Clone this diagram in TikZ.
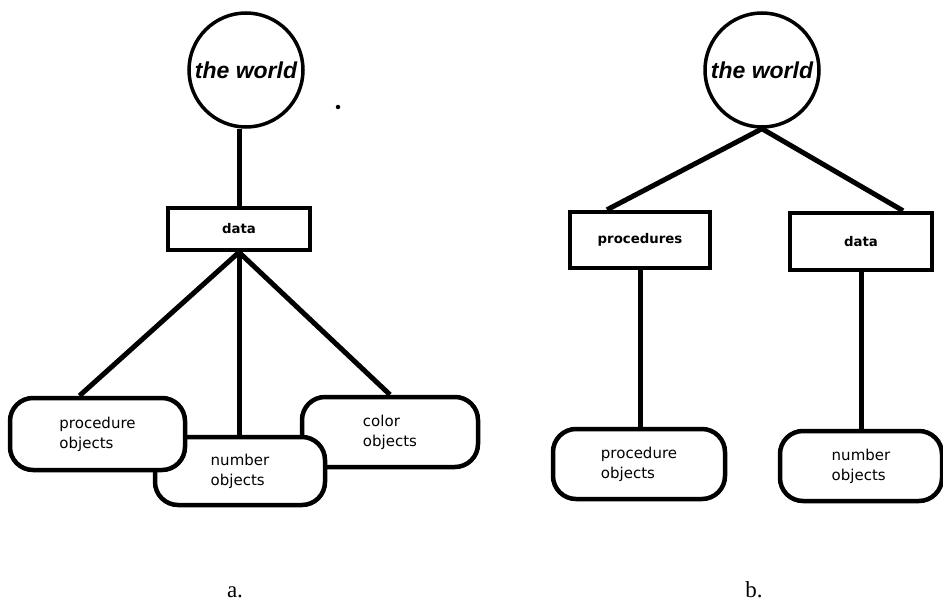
\documentclass[tikz,border=0pt]{standalone}
\usepackage{fontspec}
\setmainfont{Liberation Serif}
\newfontfamily\worldfont{Liberation Sans}
\newfontfamily\boxfont{DejaVu Sans}
\usepackage{tikz}
\tikzset{world/.style = {draw, circle, line width = 3.5, fill = white, inner sep = 0, minimum size = 114,
                         font = \worldfont\fontsize{23}{26}\selectfont\bfseries\itshape},
         databox/.style = {draw, rectangle, line width = 4.5, fill = white, inner sep = 0,
                           font = \boxfont\fontsize{13.3}{16}\selectfont\bfseries},
         objbox/.style = {draw, rectangle, rounded corners = 23, line width = 4.5, fill = white,
                          inner sep = 0, minimum width = 172, minimum height = 70, align = left,
                          font = \boxfont\fontsize{15}{20}\selectfont},
         link/.style = {line width = 5},
         caption/.style = {anchor = base, inner sep = 0, font = \fontsize{23}{26}\selectfont}}

\begin{document}
\begin{tikzpicture}[x = 1pt, y = -1pt]
    \useasboundingbox (0, 0) rectangle (943, 602);

    \node [world] (world-a) at (246, 70) {the world};
    \node [fill, circle, inner sep = 0, minimum size = 4.5] (dot-a) at (338, 107) {};
    \node [databox, minimum width = 142, minimum height = 42] (data-a) at (239, 229) {data};
    \node [objbox, minimum width = 176] (color-a) at (390, 432) {color\\objects};
    \node [objbox, minimum width = 170, minimum height = 68] (num-a) at (240, 471) {number\\objects};
    \node [objbox, minimum width = 175, minimum height = 72] (proc-a) at (97.5, 434) {procedure\\objects};

    \draw [link] (data-a.north) -- (data-a.north |- world-a.south);
    \draw [link] (data-a.south) -- ([xshift = -18]proc-a.north);
    \draw [link] (data-a.south) -- (data-a.south |- num-a.north);
    \draw [link] (data-a.south) -- (color-a.north);

    \node [world] (world-b) at (762, 70) {the world};
    \node [databox, minimum width = 140, minimum height = 56] (procs-b) at (640, 240) {procedures};
    \node [databox, minimum width = 142, minimum height = 57] (data-b) at (861, 241.5) {data};
    \node [objbox] (proc-b) at (639, 464) {procedure\\objects};
    \node [objbox, minimum width = 162] (num-b) at (861, 466) {number\\objects};

    \draw [link] (world-b.south) -- ([xshift = -33]procs-b.north);
    \draw [link] (world-b.south) -- ([xshift = 42]data-b.north);
    \draw [link] (procs-b.south) -- (procs-b.south |- proc-b.north);
    \draw [link] (data-b.south) -- (data-b.south |- num-b.north);

    \node [caption] (label-a) at (235, 597) {a.};
    \node [caption] (label-b) at (754, 597) {b.};
\end{tikzpicture}
\end{document}
